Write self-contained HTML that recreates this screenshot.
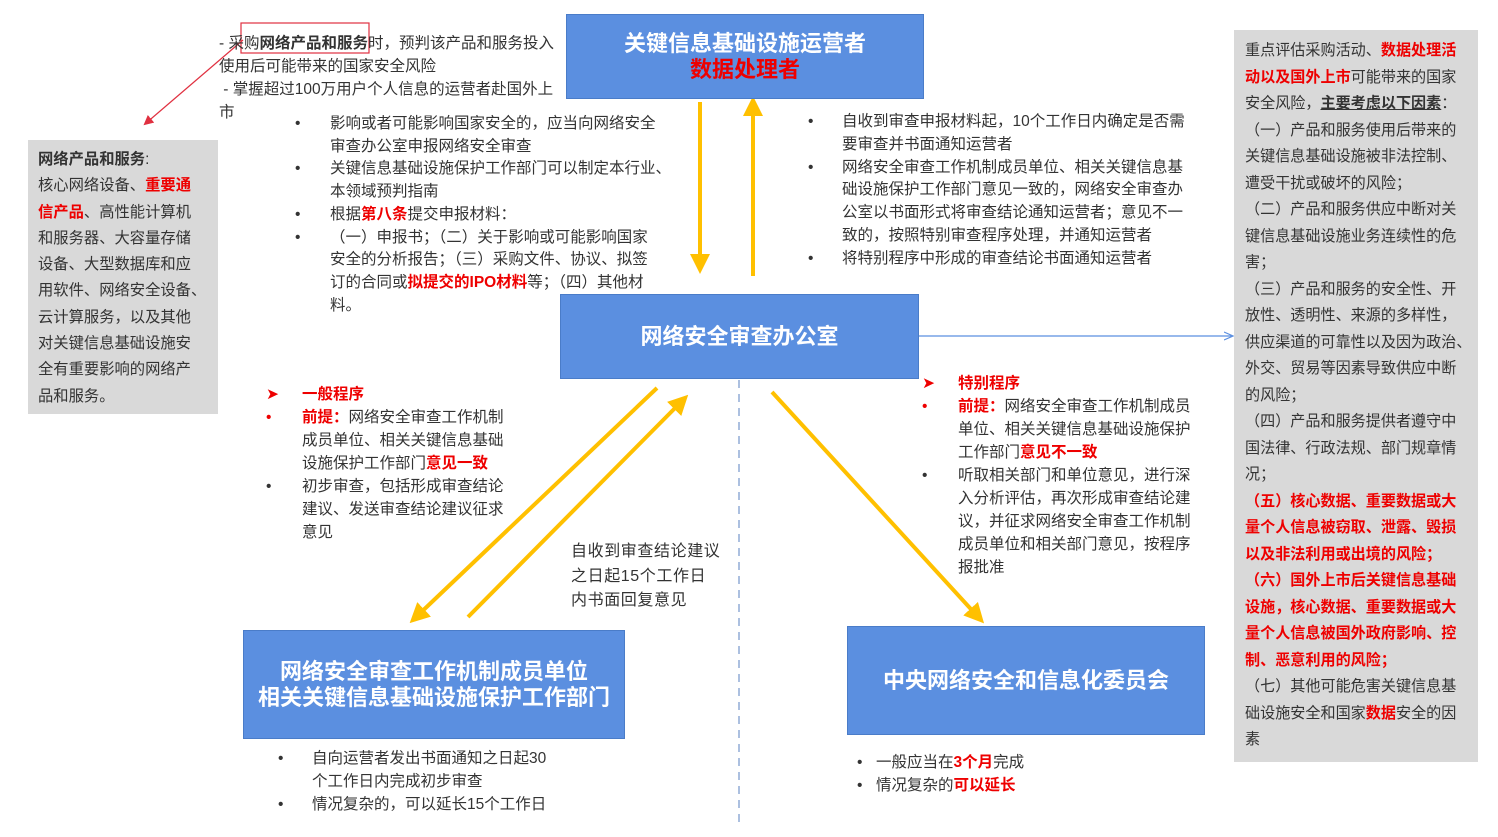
<!DOCTYPE html>
<html><head><meta charset="utf-8"><style>
body{margin:0;width:1498px;height:837px;background:#fff;position:relative;overflow:hidden;font-family:"Liberation Sans","Noto Sans CJK SC",sans-serif;color:#333;}
.t{position:absolute;font-size:15.5px;line-height:23px;white-space:nowrap;}
.r{color:#e00;font-weight:bold;}
.b{font-weight:bold;}
.box{position:absolute;background:#5b8fe0;border:1px solid #4a7cc8;color:#fff;font-weight:bold;font-size:22px;display:flex;align-items:center;justify-content:center;text-align:center;line-height:26px;}
</style></head><body>
<svg width="1498" height="837" style="position:absolute;left:0;top:0">
<defs>
<marker id="ya" markerWidth="5" markerHeight="5" refX="3.5" refY="2.5" orient="auto" markerUnits="strokeWidth"><path d="M0,0 L5,2.5 L0,5 z" fill="#ffc000"/></marker>
<marker id="ba" markerWidth="10" markerHeight="10" refX="8" refY="5" orient="auto" markerUnits="userSpaceOnUse"><path d="M0,1 L9,5 L0,9" fill="none" stroke="#5b8fe0" stroke-width="1.2"/></marker>
<marker id="ra" markerWidth="10" markerHeight="10" refX="8" refY="5" orient="auto" markerUnits="userSpaceOnUse"><path d="M0,0 L10,5 L0,10 z" fill="#e03040"/></marker>
</defs>
<line x1="700" y1="102" x2="700" y2="268" stroke="#ffc000" stroke-width="4" marker-end="url(#ya)"/>
<line x1="753" y1="276" x2="753" y2="102" stroke="#ffc000" stroke-width="4" marker-end="url(#ya)"/>
<line x1="657" y1="388" x2="414" y2="619" stroke="#ffc000" stroke-width="4" marker-end="url(#ya)"/>
<line x1="468" y1="617" x2="684" y2="399" stroke="#ffc000" stroke-width="4" marker-end="url(#ya)"/>
<line x1="772" y1="392" x2="980" y2="619" stroke="#ffc000" stroke-width="4" marker-end="url(#ya)"/>
<line x1="918" y1="336" x2="1232" y2="336" stroke="#5b8fe0" stroke-width="1.2" marker-end="url(#ba)"/>
<line x1="739" y1="380" x2="739" y2="822" stroke="#7f9fcf" stroke-width="1.3" stroke-dasharray="8,6"/>
<rect x="241" y="23" width="128" height="30" fill="none" stroke="#e03040" stroke-width="1.2"/>
<line x1="243" y1="40" x2="145" y2="124" stroke="#e03040" stroke-width="1.2" marker-end="url(#ra)"/>
</svg>

<div class="box" style="left:566px;top:14px;width:356px;height:83px;flex-direction:column;">关键信息基础设施运营者<span style="color:#e00">数据处理者</span></div>
<div class="box" style="left:560px;top:294px;width:357px;height:83px;">网络安全审查办公室</div>
<div class="box" style="left:243px;top:630px;width:380px;height:107px;flex-direction:column;">网络安全审查工作机制成员单位<span>相关关键信息基础设施保护工作部门</span></div>
<div class="box" style="left:847px;top:626px;width:356px;height:107px;">中央网络安全和信息化委员会</div>

<div class="t" style="left:219px;top:32px;">- 采购<span class="b">网络产品和服务</span>时，预判该产品和服务投入<br>使用后可能带来的国家安全风险<br>&nbsp;- 掌握超过100万用户个人信息的运营者赴国外上<br>市</div>

<div class="t" style="left:295px;top:113px;line-height:22.7px;">•<br><br>•<br><br>•<br>•</div>
<div class="t" style="left:330px;top:113px;line-height:22.7px;">影响或者可能影响国家安全的，应当向网络安全<br>审查办公室申报网络安全审查<br>关键信息基础设施保护工作部门可以制定本行业、<br>本领域预判指南<br>根据<span class="r">第八条</span>提交申报材料：<br>（一）申报书；（二）关于影响或可能影响国家<br>安全的分析报告；（三）采购文件、协议、拟签<br>订的合同或<span class="r">拟提交的IPO材料</span>等；（四）其他材<br>料。</div>

<div class="t" style="left:808px;top:111px;line-height:22.8px;">•<br><br>•<br><br><br><br>•</div>
<div class="t" style="left:842px;top:111px;line-height:22.8px;">自收到审查申报材料起，10个工作日内确定是否需<br>要审查并书面通知运营者<br>网络安全审查工作机制成员单位、相关关键信息基<br>础设施保护工作部门意见一致的，网络安全审查办<br>公室以书面形式将审查结论通知运营者；意见不一<br>致的，按照特别审查程序处理，并通知运营者<br>将特别程序中形成的审查结论书面通知运营者</div>

<div style="position:absolute;left:28px;top:140px;width:190px;height:274px;background:#d9d9d9;"></div>
<div class="t" style="left:38px;top:147px;line-height:26.3px;font-size:15.3px;"><span class="b">网络产品和服务</span>:<br>核心网络设备、<span class="r">重要通</span><br><span class="r">信产品</span>、高性能计算机<br>和服务器、大容量存储<br>设备、大型数据库和应<br>用软件、网络安全设备、<br>云计算服务，以及其他<br>对关键信息基础设施安<br>全有重要影响的网络产<br>品和服务。</div>

<div style="position:absolute;left:1234px;top:30px;width:244px;height:732px;background:#d9d9d9;"></div>
<div class="t" style="left:1245px;top:38px;line-height:26.5px;font-size:15.1px;">重点评估采购活动、<span class="r">数据处理活</span><br><span class="r">动以及国外上市</span>可能带来的国家<br>安全风险，<span class="b" style="text-decoration:underline">主要考虑以下因素</span>：<br>（一）产品和服务使用后带来的<br>关键信息基础设施被非法控制、<br>遭受干扰或破坏的风险；<br>（二）产品和服务供应中断对关<br>键信息基础设施业务连续性的危<br>害；<br>（三）产品和服务的安全性、开<br>放性、透明性、来源的多样性，<br>供应渠道的可靠性以及因为政治、<br>外交、贸易等因素导致供应中断<br>的风险；<br>（四）产品和服务提供者遵守中<br>国法律、行政法规、部门规章情<br>况；<br><span class="r">（五）核心数据、重要数据或大</span><br><span class="r">量个人信息被窃取、泄露、毁损</span><br><span class="r">以及非法利用或出境的风险；</span><br><span class="r">（六）国外上市后关键信息基础</span><br><span class="r">设施，核心数据、重要数据或大</span><br><span class="r">量个人信息被国外政府影响、控</span><br><span class="r">制、恶意利用的风险；</span><br>（七）其他可能危害关键信息基<br>础设施安全和国家<span class="r">数据</span>安全的因<br>素</div>

<div class="t" style="left:266px;top:383px;color:#e00;">➤<br>•<br><br><br><span style="color:#333">•</span></div>
<div class="t" style="left:302px;top:383px;"><span class="r">一般程序</span><br><span class="r">前提：</span>网络安全审查工作机制<br>成员单位、相关关键信息基础<br>设施保护工作部门<span class="r">意见一致</span><br>初步审查，包括形成审查结论<br>建议、发送审查结论建议征求<br>意见</div>

<div class="t" style="left:571px;top:540px;font-size:16px;line-height:24.5px;letter-spacing:0.6px;">自收到审查结论建议<br>之日起15个工作日<br>内书面回复意见</div>

<div class="t" style="left:922px;top:372px;color:#e00;">➤<br>•<br><br><br><span style="color:#333">•</span></div>
<div class="t" style="left:958px;top:372px;"><span class="r">特别程序</span><br><span class="r">前提：</span>网络安全审查工作机制成员<br>单位、相关关键信息基础设施保护<br>工作部门<span class="r">意见不一致</span><br>听取相关部门和单位意见，进行深<br>入分析评估，再次形成审查结论建<br>议，并征求网络安全审查工作机制<br>成员单位和相关部门意见，按程序<br>报批准</div>

<div class="t" style="left:278px;top:747px;">•<br><br>•</div>
<div class="t" style="left:312px;top:747px;">自向运营者发出书面通知之日起30<br>个工作日内完成初步审查<br>情况复杂的，可以延长15个工作日</div>

<div class="t" style="left:857px;top:751px;">•<br>•</div>
<div class="t" style="left:876px;top:751px;">一般应当在<span class="r">3个月</span>完成<br>情况复杂的<span class="r">可以延长</span></div>
</body></html>
